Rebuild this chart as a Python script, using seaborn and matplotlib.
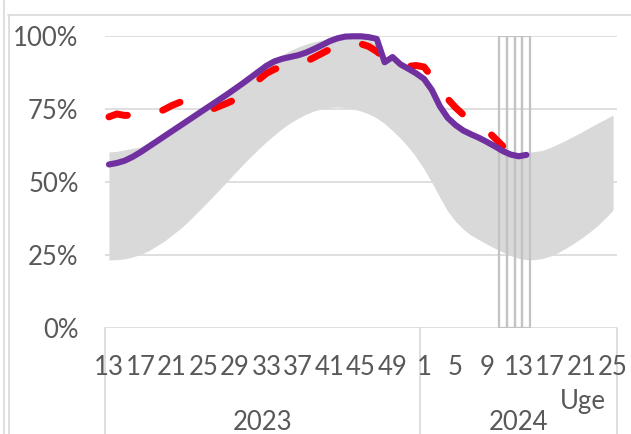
import matplotlib
matplotlib.use("Agg")
import matplotlib.pyplot as plt
import seaborn as sns
import pandas as pd
from matplotlib.lines import Line2D
from matplotlib.transforms import blended_transform_factory

# ---------------- data ----------------
weeks_2023 = list(range(13, 53))   # 2023 week 13 .. 52
weeks_2024 = list(range(1, 26))    # 2024 week 1 .. 25
years = ["2023", "2024"]
axis_title = "Uge"

tick_weeks_2023 = [13, 17, 21, 25, 29, 33, 37, 41, 45, 49]
tick_weeks_2024 = [1, 5, 9, 13, 17, 21, 25]

# grey band (min / max of earlier seasons), %
band_upper = [60.3, 60.5, 61.0, 61.5, 62.0, 63.5, 65.0, 66.8, 68.6, 70.4,
              72.2, 74.0, 75.8, 77.6, 79.4, 81.2, 83.0, 84.8, 86.7, 88.6,
              90.4, 92.0, 93.6, 95.0, 96.2, 97.2, 98.0, 98.6, 99.0, 99.3,
              99.5, 99.5, 99.3, 99.0, 97.0, 93.0, 92.5, 91.0, 89.5, 88.0,
              86.0, 82.5, 77.0, 73.0, 70.2, 68.2, 66.8, 65.6, 64.3, 62.8,
              61.4, 60.5, 60.1, 60.1, 60.4, 60.8, 61.8, 63.0, 64.3, 65.7,
              67.1, 68.6, 70.1, 71.5, 72.9]
band_lower = [23.3, 23.4, 23.7, 24.3, 25.2, 26.4, 28.0, 29.7, 31.8, 33.9,
              36.3, 39.0, 41.7, 44.5, 47.3, 50.2, 53.1, 55.9, 58.7, 61.3,
              63.8, 66.1, 68.3, 70.2, 71.8, 73.2, 74.3, 75.0, 75.5, 75.7,
              75.5, 75.0, 74.3, 73.3, 71.9, 70.0, 67.6, 65.0, 62.0, 58.5,
              54.5, 49.8, 44.8, 40.0, 36.5, 33.8, 31.7, 30.2, 28.7, 27.3,
              26.0, 24.8, 23.9, 23.4, 23.4, 23.8, 24.6, 25.8, 27.3, 29.0,
              30.8, 32.8, 35.0, 37.6, 40.4]

# current season (purple), %
current = [56.0, 56.5, 57.3, 58.6, 60.2, 62.0, 63.8, 65.6, 67.4, 69.2,
           71.0, 72.8, 74.6, 76.4, 78.2, 80.0, 81.9, 83.8, 85.8, 87.8,
           89.8, 91.3, 92.2, 92.8, 93.4, 94.3, 95.5, 96.8, 98.2, 99.2,
           99.8, 99.9, 99.9, 99.6, 99.0, 91.0, 92.8, 90.3, 88.8, 87.2,
           85.3, 81.5, 76.0, 72.0, 69.5, 67.6, 66.3, 65.1, 63.7, 62.2,
           60.6, 59.4, 58.8, 59.3]

# previous season / reference (red dashed), %
reference = [72.3, 73.3, 72.8, 72.9, 73.2, 73.5, 73.5, 74.8, 76.2, 77.3,
             77.8, 76.5, 75.2, 74.8, 75.9, 77.0, 78.2, 80.5, 83.0, 85.0,
             87.2, 88.6, 89.5, 90.0, 90.5, 91.2, 92.6, 94.0, 95.4, 96.3,
             97.0, 97.5, 97.3, 96.4, 94.7, 92.5, 90.5, 89.3, 89.6, 89.9,
             89.4, 86.0, 81.5, 78.5, 75.5, 73.0, 71.0, 69.2, 67.6, 65.0,
             62.3]

# outlined marker columns (2024 weeks), %
marked_weeks_2024 = [11, 12, 13, 14]
marked_height = [100, 100, 100, 100]

# ---------------- build ----------------
cats = [("2023", w) for w in weeks_2023] + [("2024", w) for w in weeks_2024]
pos = {c: i for i, c in enumerate(cats)}
n = len(cats)

df_band = pd.DataFrame({"x": range(n), "lo": band_lower, "hi": band_upper})
df_cur = pd.DataFrame({"x": range(len(current)), "y": current})
df_ref = pd.DataFrame({"x": range(len(reference)), "y": reference})

sns.set_theme(style="white")
plt.rcParams["font.family"] = ["Lato", "DejaVu Sans"]

W, H = 631, 434
fig = plt.figure(figsize=(W / 100, H / 100), dpi=100)
L, R, B, T = 105, 617, 328, 36
ax = fig.add_axes([L / W, (H - B) / H, (R - L) / W, (B - T) / H])

grid_c = "#D9D9D9"
txt_c = "#595959"
FS = 18.5

ax.fill_between(df_band["x"], df_band["lo"], df_band["hi"],
                color="#D9D9D9", lw=0, zorder=1)

mx = [pos[("2024", w)] for w in marked_weeks_2024]
ax.bar(mx, marked_height, width=1.0, fill=False, edgecolor="#C3C3C3",
       linewidth=1.6, zorder=2)

sns.lineplot(data=df_ref, x="x", y="y", ax=ax, color="#FF0000",
             linewidth=5.0, zorder=3)
ref_line = ax.lines[-1]
ref_line.set_dashes((2.75, 5.2))
ref_line.set_dash_capstyle("round")
ref_line.set_clip_on(False)

sns.lineplot(data=df_cur, x="x", y="y", ax=ax, color="#7030A0",
             linewidth=4.4, zorder=4)
cur_line = ax.lines[-1]
cur_line.set_solid_capstyle("round")
cur_line.set_solid_joinstyle("round")
cur_line.set_clip_on(False)

ax.set_xlim(-0.5, n - 0.5)
ax.set_ylim(0, 100)
ax.set_xlabel("")
ax.set_ylabel("")
for s in ax.spines.values():
    s.set_visible(False)
ax.set_yticks([0, 25, 50, 75, 100])
ax.set_yticklabels(["0%", "25%", "50%", "75%", "100%"])
ax.tick_params(axis="y", length=0, pad=19.0, labelsize=FS, labelcolor=txt_c)
ax.set_xticks([])
ax.grid(axis="y", color=grid_c, linewidth=1.2)
ax.set_axisbelow(True)

tr = blended_transform_factory(ax.transData, ax.transAxes)
ph = B - T
for w in tick_weeks_2023:
    ax.text(pos[("2023", w)], (B - 375) / ph, str(w), transform=tr,
            ha="center", va="baseline", fontsize=FS, color=txt_c)
for w in tick_weeks_2024:
    ax.text(pos[("2024", w)], (B - 375) / ph, str(w), transform=tr,
            ha="center", va="baseline", fontsize=FS, color=txt_c)

first23 = pos[("2023", weeks_2023[0])]
last23 = pos[("2023", weeks_2023[-1])]
first24 = pos[("2024", weeks_2024[0])]
last24 = pos[("2024", weeks_2024[-1])]
ax.text((first23 + last23) / 2, (B - 430) / ph, years[0], transform=tr,
        ha="center", va="baseline", fontsize=FS, color=txt_c)
ax.text((first24 + last24) / 2, (B - 430) / ph, years[1], transform=tr,
        ha="center", va="baseline", fontsize=FS, color=txt_c)
ax.text(60.2, (B - 409) / ph, axis_title, transform=tr,
        ha="center", va="baseline", fontsize=FS, color=txt_c)

# category separators
ybot = -(H - B) / ph
for xs in [first23 - 0.5, last23 + 0.5, last24 + 0.5]:
    ax.plot([xs, xs], [0, ybot], transform=tr, color=grid_c, lw=1.2,
            clip_on=False, zorder=0)

# outer frame fragments of the cropped chart
fig.add_artist(Line2D([8 / W, 1], [(H - 15) / H, (H - 15) / H],
                      color=grid_c, lw=1.2))
fig.add_artist(Line2D([4 / W, 4 / W], [0, 1], color=grid_c, lw=1.2))
fig.add_artist(Line2D([8.5 / W, 8.5 / W], [0, (H - 15) / H],
                      color=grid_c, lw=1.2))

fig.savefig("out.png", dpi=100)
